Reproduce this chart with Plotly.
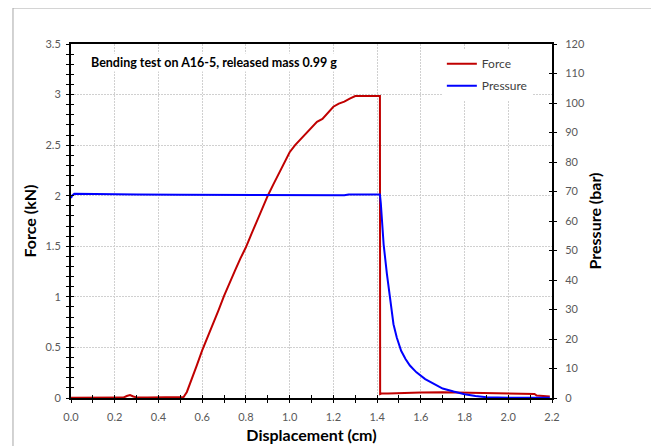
import plotly.graph_objects as go

# ---- data ----
disp_force = [0, 0.05, 0.1, 0.15, 0.2, 0.24, 0.255, 0.27, 0.285, 0.3, 0.35, 0.4, 0.45, 0.5,
              0.515, 0.53, 0.55, 0.575, 0.6, 0.625, 0.65, 0.675, 0.7, 0.725, 0.75, 0.775,
              0.8, 0.825, 0.85, 0.875, 0.9, 0.925, 0.95, 0.975, 1.0, 1.025, 1.05, 1.075,
              1.1, 1.125, 1.15, 1.175, 1.2, 1.225, 1.25, 1.275, 1.3, 1.35, 1.413, 1.414,
              1.42, 1.45, 1.5, 1.6, 1.7, 1.8, 1.9, 2.0, 2.1, 2.12, 2.13, 2.16, 2.19]
force_kN = [0.002, 0.003, 0.002, 0.003, 0.003, 0.004, 0.02, 0.03, 0.015, 0.006, 0.004, 0.004,
            0.005, 0.005, 0.01, 0.06, 0.17, 0.32, 0.47, 0.6, 0.73, 0.87, 1.01, 1.14, 1.26,
            1.38, 1.49, 1.62, 1.75, 1.88, 2.0, 2.11, 2.22, 2.33, 2.43, 2.5, 2.56, 2.62,
            2.68, 2.73, 2.76, 2.82, 2.88, 2.91, 2.93, 2.96, 2.985, 2.985, 2.985, 0.04,
            0.045, 0.045, 0.05, 0.055, 0.058, 0.055, 0.05, 0.048, 0.045, 0.04, 0.025, 0.02, 0.015]

disp_pressure = [0, 0.005, 0.015, 0.1, 0.3, 0.5, 0.7, 0.9, 1.1, 1.25, 1.27, 1.3, 1.413,
                 1.417, 1.43, 1.445, 1.46, 1.475, 1.49, 1.51, 1.53, 1.55, 1.58, 1.62, 1.66,
                 1.7, 1.75, 1.8, 1.85, 1.9, 2.0, 2.1, 2.19]
pressure_bar = [67.8, 68.6, 69.2, 69.1, 69.0, 68.9, 68.8, 68.7, 68.7, 68.7, 69.0, 69.0, 69.0,
                66, 52, 42, 34, 25, 20.5, 16, 13.2, 11, 8.7, 6.4, 4.8,
                3.2, 2.2, 1.3, 0.7, 0.25, 0.1, 0.1, 0.1]

title_text = "Bending test on A16-5, released mass 0.99 g"

FONT = "Lato"
TICKC = "#595959"

fig = go.Figure()
fig.add_trace(go.Scatter(x=disp_force, y=force_kN, name="Force", mode="lines",
                         line=dict(color="#C00000", width=2), legendgroup="f",
                         xaxis="x", yaxis="y"))
fig.add_trace(go.Scatter(x=disp_pressure, y=pressure_bar, name="Pressure", mode="lines",
                         line=dict(color="#0000FF", width=2), legendgroup="p",
                         xaxis="x", yaxis="y2"))
# empty traces to activate overlay tick axes (for cross-style ticks)
fig.add_trace(go.Scatter(x=[], y=[], xaxis="x2", yaxis="y3", showlegend=False, hoverinfo="skip"))
fig.add_trace(go.Scatter(x=[], y=[], xaxis="x2", yaxis="y4", showlegend=False, hoverinfo="skip"))

grid_dash = "2px,1px"

fig.update_layout(
    width=651, height=438,
    margin=dict(l=63, r=107, t=36, b=48),
    paper_bgcolor="white", plot_bgcolor="white",
    font=dict(family=FONT, size=11, color=TICKC),
    showlegend=True,
    legend=dict(x=0.771, y=0.985, xanchor="left", yanchor="top",
                bgcolor="white", font=dict(family=FONT, size=12, color="#404040"),
                tracegroupgap=3, itemwidth=30),
    xaxis=dict(range=[0, 2.2], dtick=0.2, tick0=0, tickformat=".1f", automargin=False,
               showgrid=True, gridcolor="#d0d0d0", griddash=grid_dash, gridwidth=1,
               zeroline=False, showline=True, linecolor="black", linewidth=2, mirror=True,
               ticks="outside", ticklen=3, tickcolor="black", tickwidth=1,
               ticklabelstandoff=5,
               minor=dict(dtick=0.1, ticks="outside", ticklen=3, tickcolor="black", showgrid=False),
               tickfont=dict(family=FONT, size=11, color=TICKC),
               title=dict(text="<b>Displacement (cm)</b>", standoff=8,
                          font=dict(family=FONT, size=16, color="black"))),
    yaxis=dict(range=[0, 3.5], dtick=0.5, tick0=0, automargin=False,
               showgrid=True, gridcolor="#d0d0d0", griddash=grid_dash, gridwidth=1,
               zeroline=False, showline=True, linecolor="black", linewidth=2,
               ticks="outside", ticklen=3, tickcolor="black", tickwidth=1,
               ticklabelstandoff=3,
               minor=dict(dtick=0.1, ticks="outside", ticklen=3, tickcolor="black", showgrid=False),
               tickfont=dict(family=FONT, size=11, color=TICKC),
               title=dict(text="<b>Force (kN)</b>", standoff=5,
                          font=dict(family=FONT, size=16, color="black"))),
    yaxis2=dict(range=[0, 120], dtick=10, tick0=0, overlaying="y", side="right", automargin=False,
                showgrid=False, zeroline=False, showline=True, linecolor="black", linewidth=2,
                ticks="outside", ticklen=3, tickcolor="black", tickwidth=1,
                ticklabelstandoff=6,
                tickfont=dict(family=FONT, size=11, color=TICKC),
                title=dict(text="<b>Pressure (bar)</b>", standoff=6,
                           font=dict(family=FONT, size=16, color="black"))),
    xaxis2=dict(range=[0, 2.2], dtick=0.2, overlaying="x", anchor="y", side="bottom",
                showgrid=False, zeroline=False, showline=False, showticklabels=False,
                ticks="inside", ticklen=3, tickcolor="black", automargin=False,
                minor=dict(dtick=0.1, ticks="inside", ticklen=3, tickcolor="black")),
    yaxis3=dict(range=[0, 3.5], dtick=0.5, overlaying="y", anchor="x", side="left",
                showgrid=False, zeroline=False, showline=False, showticklabels=False,
                ticks="inside", ticklen=3, tickcolor="black", automargin=False,
                minor=dict(dtick=0.1, ticks="inside", ticklen=3, tickcolor="black")),
    yaxis4=dict(range=[0, 120], dtick=10, overlaying="y", anchor="x", side="right",
                showgrid=False, zeroline=False, showline=False, showticklabels=False,
                ticks="inside", ticklen=3, tickcolor="black", automargin=False),
)

fig.add_annotation(text="<b>" + title_text + "</b>", xref="paper", yref="paper",
                   x=0.297, y=0.949, xanchor="center", yanchor="middle", showarrow=False,
                   bgcolor="white", font=dict(family=FONT, size=12.5, color="black"))

# outer chart border
fig.add_shape(type="rect", xref="paper", yref="paper", x0=-0.1206, x1=1.2204,
              y0=-0.16, y1=1.1017, line=dict(color="#a6a6a6", width=1), layer="below")

fig.write_html("out.html")
